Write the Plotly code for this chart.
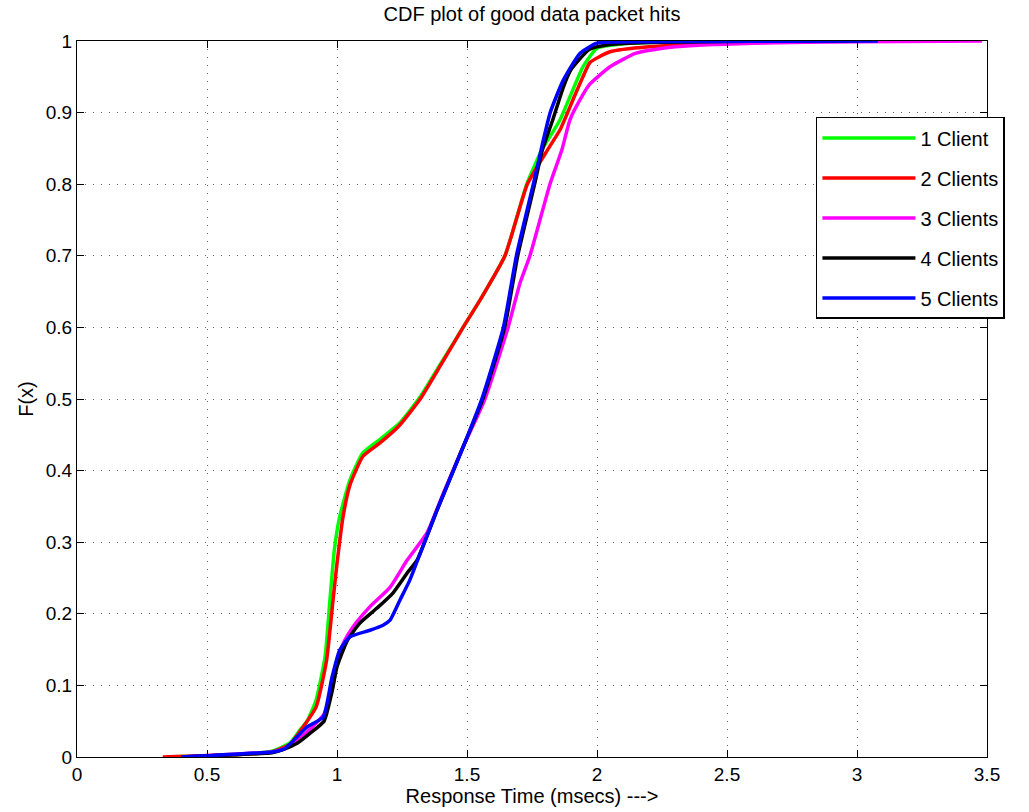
import plotly.graph_objects as go

names = ["1 Client", "2 Clients", "3 Clients", "4 Clients", "5 Clients"]
colors = ["#00ff00", "#ff0000", "#ff00ff", "#000000", "#0000ff"]

x1 = [0.35, 0.6, 0.75, 0.82, 0.858, 0.885, 0.92, 0.954, 0.973, 0.99, 1.01, 1.05, 1.10, 1.17, 1.24, 1.32, 1.40, 1.485, 1.55, 1.646, 1.73, 1.788, 1.858, 1.946, 2.0, 2.1, 2.3, 2.6]
y1 = [0, 0.003, 0.008, 0.02, 0.038, 0.05, 0.08, 0.14, 0.22, 0.29, 0.335, 0.387, 0.425, 0.445, 0.466, 0.503, 0.55, 0.60, 0.638, 0.70, 0.80, 0.848, 0.89, 0.964, 0.99, 0.996, 0.999, 1.0]

x2 = [0.33, 0.6, 0.75, 0.82, 0.87, 0.92, 0.96, 0.985, 1.0, 1.023, 1.05, 1.10, 1.17, 1.24, 1.32, 1.40, 1.485, 1.55, 1.646, 1.732, 1.81, 1.858, 1.91, 1.946, 1.973, 2.05, 2.2, 2.5, 2.9]
y2 = [0, 0.003, 0.007, 0.018, 0.042, 0.07, 0.135, 0.22, 0.27, 0.335, 0.38, 0.42, 0.44, 0.463, 0.5, 0.548, 0.6, 0.638, 0.70, 0.80, 0.848, 0.876, 0.92, 0.95, 0.97, 0.985, 0.992, 0.997, 1.0]

x3 = [0.4, 0.6, 0.75, 0.80, 0.885, 0.95, 0.985, 1.0, 1.03, 1.062, 1.127, 1.204, 1.27, 1.346, 1.41, 1.485, 1.569, 1.658, 1.704, 1.742, 1.819, 1.865, 1.896, 1.946, 1.973, 2.05, 2.15, 2.3, 2.6, 3.0, 3.48]
y3 = [0, 0.004, 0.007, 0.012, 0.035, 0.06, 0.1, 0.135, 0.163, 0.182, 0.21, 0.237, 0.275, 0.313, 0.369, 0.433, 0.5, 0.6, 0.662, 0.70, 0.80, 0.848, 0.89, 0.925, 0.94, 0.964, 0.983, 0.992, 0.997, 0.999, 1.0]

x4 = [0.4, 0.6, 0.75, 0.79, 0.85, 0.896, 0.95, 0.98, 1.0, 1.04, 1.088, 1.154, 1.215, 1.27, 1.308, 1.385, 1.485, 1.56, 1.645, 1.695, 1.76, 1.79, 1.83, 1.87, 1.90, 1.97, 2.05, 2.2, 2.6, 3.0]
y4 = [0, 0.003, 0.006, 0.01, 0.02, 0.033, 0.05, 0.09, 0.126, 0.163, 0.187, 0.208, 0.229, 0.257, 0.275, 0.345, 0.433, 0.499, 0.60, 0.70, 0.80, 0.848, 0.89, 0.935, 0.96, 0.988, 0.995, 0.998, 0.9995, 1.0]

x5 = [0.4, 0.52, 0.6, 0.75, 0.8, 0.885, 0.947, 0.98, 1.01, 1.05, 1.127, 1.177, 1.204, 1.242, 1.28, 1.31, 1.385, 1.485, 1.557, 1.64, 1.69, 1.755, 1.785, 1.82, 1.87, 1.935, 2.0, 2.2, 2.6, 3.08]
y5 = [0, 0.002, 0.004, 0.007, 0.012, 0.042, 0.056, 0.11, 0.149, 0.168, 0.177, 0.184, 0.191, 0.219, 0.247, 0.275, 0.345, 0.433, 0.5, 0.6, 0.7, 0.8, 0.848, 0.90, 0.945, 0.983, 0.997, 0.999, 0.9997, 1.0]

xs = [x1, x2, x3, x4, x5]
ys = [y1, y2, y3, y4, y5]

x_ticks = [0, 0.5, 1, 1.5, 2, 2.5, 3, 3.5]
x_tick_labels = ["0", "0.5", "1", "1.5", "2", "2.5", "3", "3.5"]
y_ticks = [0, 0.1, 0.2, 0.3, 0.4, 0.5, 0.6, 0.7, 0.8, 0.9, 1]
y_tick_labels = ["0", "0.1", "0.2", "0.3", "0.4", "0.5", "0.6", "0.7", "0.8", "0.9", "1"]

FONT = "Liberation Sans, Arial, sans-serif"

fig = go.Figure()
for i in range(5):
    fig.add_trace(go.Scatter(
        x=xs[i], y=ys[i], mode="lines", name=names[i],
        legendgroup=f"g{i}",
        line=dict(color=colors[i], width=3.5, shape="spline", smoothing=0.5),
    ))

axis_common = dict(
    showline=True, linecolor="black", linewidth=1, mirror="ticks",
    ticks="inside", ticklen=7, tickcolor="black", tickwidth=1,
    showgrid=True, gridcolor="#666666", griddash="1px,7px", gridwidth=1,
    zeroline=False, tickfont=dict(family=FONT, size=19, color="black"),
)

fig.update_layout(
    width=1029, height=812,
    paper_bgcolor="white", plot_bgcolor="white",
    margin=dict(l=77, r=42, t=41, b=55, autoexpand=False),
    font=dict(family=FONT, size=19, color="black"),
    title=dict(text="CDF plot of good data packet hits", x=0.5, xref="paper",
               y=1 - 14 / 812, yanchor="middle",
               font=dict(family=FONT, size=20, color="black")),
    xaxis=dict(range=[0, 3.5], tickvals=x_ticks, ticktext=x_tick_labels,
               title=dict(text="Response Time (msecs) --->", standoff=5,
                          font=dict(family=FONT, size=20)),
               **axis_common),
    yaxis=dict(range=[0, 1], tickvals=y_ticks, ticktext=y_tick_labels,
               title=dict(text="F(x)", standoff=6, font=dict(family=FONT, size=20)),
               **axis_common),
    legend=dict(x=0.812, y=0.894, xanchor="left", yanchor="top",
                bgcolor="white", bordercolor="black", borderwidth=1.5,
                font=dict(family=FONT, size=20, color="black"),
                traceorder="grouped", tracegroupgap=11, itemwidth=93),
    showlegend=True,
)

fig.write_html("out.html")
